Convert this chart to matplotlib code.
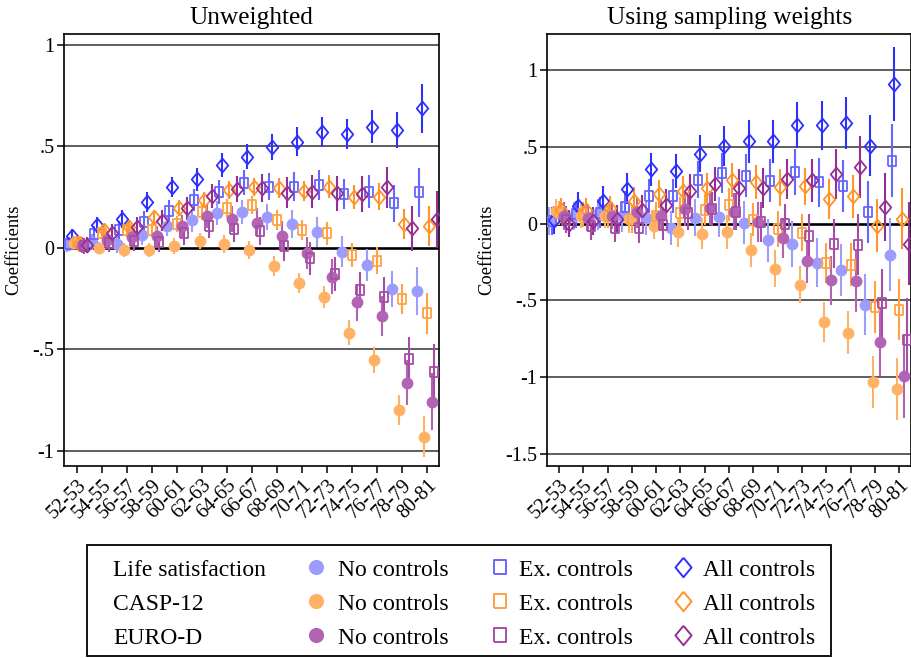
import numpy as np
import matplotlib
matplotlib.use('Agg')
import matplotlib.pyplot as plt
from matplotlib.lines import Line2D
from matplotlib.patches import Rectangle

plt.rcParams['font.family'] = ['Liberation Serif', 'DejaVu Serif']

cohorts = ['52-53', '54-55', '56-57', '58-59', '60-61', '62-63', '64-65', '66-67',
           '68-69', '70-71', '72-73', '74-75', '76-77', '78-79', '80-81']

# unweighted coefficients
ls_no_u = [0.015, 0.03, 0.02, 0.064, 0.108, 0.136, 0.171, 0.177, 0.154, 0.118, 0.08, -0.018, -0.084, -0.202, -0.212]
ls_ex_u = [0.02, 0.07, 0.089, 0.13, 0.184, 0.236, 0.277, 0.322, 0.302, 0.302, 0.31, 0.266, 0.277, 0.22, 0.274]
ls_all_u = [0.06, 0.113, 0.141, 0.228, 0.302, 0.338, 0.409, 0.45, 0.496, 0.524, 0.57, 0.562, 0.598, 0.581, 0.688]
casp_no_u = [0.026, 0.0, -0.01, -0.01, 0.011, 0.033, 0.018, -0.01, -0.089, -0.174, -0.243, -0.417, -0.553, -0.798, -0.929]
casp_ex_u = [0.03, 0.072, 0.089, 0.089, 0.118, 0.179, 0.195, 0.212, 0.138, 0.089, 0.072, -0.034, -0.062, -0.251, -0.322]
casp_all_u = [0.02, 0.089, 0.105, 0.154, 0.197, 0.236, 0.286, 0.302, 0.294, 0.282, 0.302, 0.25, 0.253, 0.118, 0.108]
euro_no_u = [0.015, 0.039, 0.053, 0.059, 0.108, 0.158, 0.143, 0.125, 0.059, -0.026, -0.141, -0.268, -0.335, -0.663, -0.757]
euro_ex_u = [0.01, 0.023, 0.036, 0.031, 0.072, 0.108, 0.092, 0.085, 0.01, -0.051, -0.128, -0.207, -0.243, -0.547, -0.612]
euro_all_u = [0.015, 0.072, 0.105, 0.135, 0.195, 0.256, 0.289, 0.294, 0.273, 0.277, 0.269, 0.266, 0.299, 0.097, 0.141]

# confidence interval half widths, unweighted
ci_ls_u = [0.035, 0.04, 0.045, 0.05, 0.05, 0.055, 0.06, 0.06, 0.065, 0.07, 0.075, 0.075, 0.08, 0.09, 0.12]
ci_casp_u = [0.03, 0.03, 0.035, 0.035, 0.04, 0.04, 0.045, 0.045, 0.05, 0.05, 0.055, 0.06, 0.065, 0.075, 0.1]
ci_euro_u = [0.04, 0.045, 0.05, 0.05, 0.055, 0.06, 0.065, 0.07, 0.075, 0.08, 0.085, 0.09, 0.1, 0.11, 0.14]

# weighted coefficients
ls_no_w = [0.015, 0.048, 0.06, 0.048, 0.037, -0.028, 0.037, 0.043, 0.004, -0.108, -0.132, -0.256, -0.3, -0.527, -0.202]
ls_ex_w = [0.015, 0.06, 0.07, 0.11, 0.18, 0.18, 0.286, 0.33, 0.31, 0.28, 0.336, 0.27, 0.247, 0.074, 0.41]
ls_all_w = [0.022, 0.113, 0.145, 0.226, 0.352, 0.341, 0.456, 0.503, 0.536, 0.536, 0.64, 0.64, 0.655, 0.508, 0.909]
casp_no_w = [0.08, 0.048, 0.048, 0.03, -0.013, -0.054, -0.065, -0.054, -0.174, -0.295, -0.397, -0.642, -0.712, -1.033, -1.076]
casp_ex_w = [0.07, 0.06, 0.05, 0.03, 0.05, 0.07, 0.091, 0.124, 0.026, -0.035, -0.06, -0.256, -0.267, -0.542, -0.56]
casp_all_w = [0.087, 0.087, 0.1, 0.145, 0.193, 0.21, 0.232, 0.282, 0.27, 0.236, 0.243, 0.16, 0.178, -0.013, 0.033]
euro_no_w = [0.048, 0.037, 0.052, 0.074, 0.052, 0.095, 0.102, 0.076, 0.009, -0.093, -0.245, -0.369, -0.375, -0.77, -0.994]
euro_ex_w = [0.026, -0.017, -0.028, -0.028, -0.007, 0.07, 0.095, 0.076, 0.009, 0.0, -0.078, -0.13, -0.137, -0.516, -0.755]
euro_all_w = [0.0, 0.015, 0.03, 0.087, 0.124, 0.21, 0.26, 0.232, 0.232, 0.29, 0.282, 0.323, 0.369, 0.109, -0.13]

ci_ls_w = [0.09, 0.09, 0.1, 0.1, 0.11, 0.11, 0.12, 0.13, 0.14, 0.14, 0.15, 0.16, 0.17, 0.2, 0.24]
ci_casp_w = [0.08, 0.08, 0.08, 0.09, 0.09, 0.1, 0.1, 0.11, 0.11, 0.12, 0.12, 0.13, 0.14, 0.17, 0.2]
ci_euro_w = [0.09, 0.09, 0.09, 0.1, 0.1, 0.11, 0.11, 0.12, 0.13, 0.13, 0.14, 0.16, 0.2, 0.22, 0.27]

outcomes = ['Life satisfaction', 'CASP-12', 'EURO-D']
specs = ['No controls', 'Ex. controls', 'All controls']
colors = [['#9c9cff', '#6666ff', '#2f2fff'],
          ['#ffb266', '#ffa244', '#ff9428'],
          ['#b363b3', '#a64da6', '#952f95']]

diamond = [(0, 1), (0.83, 0), (0, -1), (-0.83, 0), (0, 1)]
square = [(-0.86, -1), (0.86, -1), (0.86, 1), (-0.86, 1), (-0.86, -1)]
markers = ['o', square, diamond]
msizes = [7.2, 7.2, 10]


def draw_panel(ax, values, cis, title, ylim, yticks, yticklabels, xlim):
    x = np.arange(1, len(cohorts) + 1)
    k = 0
    for i in range(3):
        for j in range(3):
            c = colors[i][j]
            xs = x + (k - 4) * 0.1
            ax.errorbar(xs, values[i][j], yerr=cis[i], fmt='none', ecolor=c,
                        elinewidth=1.5, capsize=0, zorder=3)
            ax.plot(xs, values[i][j], linestyle='none', marker=markers[j], ms=msizes[j],
                    mfc=c if j == 0 else 'none', mec=c, mew=1.3, zorder=4)
            k += 1
    ax.set_xlim(*xlim)
    ax.set_ylim(*ylim)
    ax.set_yticks(yticks)
    ax.set_yticklabels(yticklabels)
    ax.set_xticks(x)
    ax.set_xticklabels(cohorts, rotation=45, ha='right', rotation_mode='anchor')
    for yv in yticks:
        if yv == 0:
            ax.axhline(0, color='black', lw=1.9, zorder=1)
        else:
            ax.axhline(yv, color='#333333', lw=1.1, zorder=1)
    ax.tick_params(axis='both', labelsize=14.5, length=5, width=1.1, direction='out')
    ax.tick_params(axis='x', pad=2)
    ax.tick_params(axis='y', pad=2)
    for s in ax.spines.values():
        s.set_linewidth(1.2)
    ax.set_ylabel('Coefficients', fontsize=13.3, labelpad=7)
    ax.set_title(title, fontsize=18.3, pad=7)


fig = plt.figure(figsize=(9.12, 6.58), dpi=100)
W, H = 912.0, 658.0
ax1 = fig.add_axes([64 / W, 1 - 466 / H, 375 / W, 432 / H])
ax2 = fig.add_axes([547 / W, 1 - 466 / H, 364.5 / W, 432 / H])

draw_panel(ax1,
           [[ls_no_u, ls_ex_u, ls_all_u], [casp_no_u, casp_ex_u, casp_all_u],
            [euro_no_u, euro_ex_u, euro_all_u]],
           [ci_ls_u, ci_casp_u, ci_euro_u], 'Unweighted',
           (-1.074, 1.054), [1, 0.5, 0, -0.5, -1], ['1', '.5', '0', '-.5', '-1'],
           (0.48, 15.48))
draw_panel(ax2,
           [[ls_no_w, ls_ex_w, ls_all_w], [casp_no_w, casp_ex_w, casp_all_w],
            [euro_no_w, euro_ex_w, euro_all_w]],
           [ci_ls_w, ci_casp_w, ci_euro_w], 'Using sampling weights',
           (-1.578, 1.234), [1, 0.5, 0, -0.5, -1, -1.5],
           ['1', '.5', '0', '-.5', '-1', '-1.5'], (0.51, 15.5))

# legend drawn by hand so the row labels line up like the original
fig.add_artist(Rectangle((87 / W, 1 - 656 / H), 744 / W, 111 / H, transform=fig.transFigure,
                         fill=False, ec='black', lw=1.3))
baselines = [576, 610, 644]
mark_x = [316, 500, 683]
text_x = [338, 519, 703]
leg_ms = [9.5, 9.5, 14]
for i in range(3):
    yb = baselines[i]
    fig.text(113 / W, 1 - yb / H, outcomes[i], fontsize=17, va='baseline', ha='left')
    for j in range(3):
        c = colors[i][j]
        fig.add_artist(Line2D([mark_x[j] / W], [1 - (yb - 9) / H], transform=fig.transFigure,
                              linestyle='none', marker=markers[j], ms=leg_ms[j],
                              mfc=c if j == 0 else 'none', mec=c, mew=1.4))
        fig.text(text_x[j] / W, 1 - yb / H, specs[j], fontsize=17, va='baseline', ha='left')

fig.savefig('out.png', dpi=100)
